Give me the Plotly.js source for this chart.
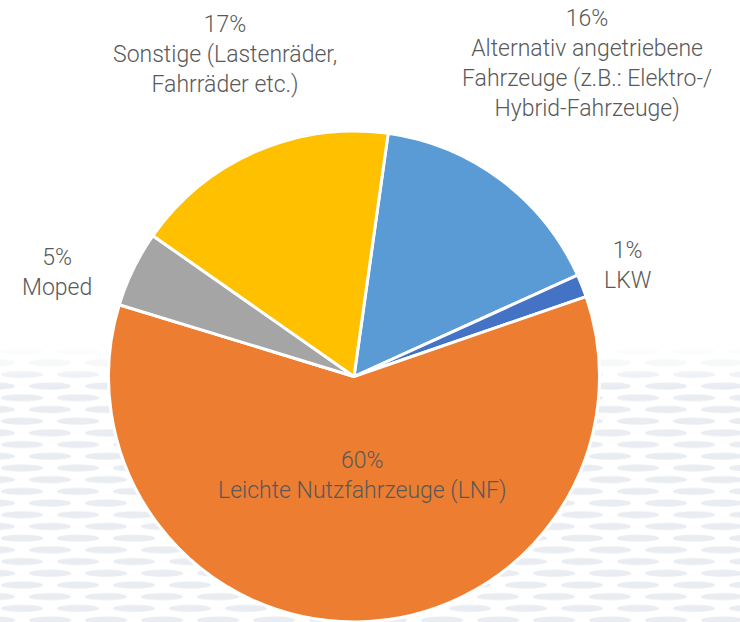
<!DOCTYPE html>
<html>
<head>
<meta charset="utf-8">
<script src="https://cdn.plot.ly/plotly-3.0.1.min.js"></script>
<style>html,body{margin:0;padding:0;background:#fff;}#chart{width:740px;height:622px;}</style>
</head>
<body>
<div id="chart"></div>
<script>
// Data
const categories = [
  "Alternativ angetriebene<br>Fahrzeuge (z.B.: Elektro-/<br>Hybrid-Fahrzeuge)",
  "LKW",
  "Leichte Nutzfahrzeuge (LNF)",
  "Moped",
  "Sonstige (Lastenräder,<br>Fahrräder etc.)"
];
const values = [16, 1.5, 60, 5, 17.5];
const pctLabels = ["16%", "1%", "60%", "5%", "17%"];
const colors = ["#5B9BD5", "#4472C4", "#ED7D31", "#A5A5A5", "#FFC000"];

// label placement (paper coords) for each category
const labelPos = [
  {x: 587/740, y: 1 - 64/622},
  {x: 628/740, y: 1 - 265/622},
  {x: 362/740, y: 1 - 475/622},
  {x: 57/740,  y: 1 - 272/622},
  {x: 225/740, y: 1 - 54/622}
];

// decorative dotted background (svg pattern)
const svg = `<svg xmlns='http://www.w3.org/2000/svg' width='740' height='280'>
<defs>
<pattern id='p' x='0' y='0' width='56' height='23.4' patternUnits='userSpaceOnUse'>
<ellipse cx='22' cy='6' rx='21' ry='3.6' fill='#E9EDF1'/>
<ellipse cx='50' cy='17.7' rx='21' ry='3.6' fill='#E9EDF1'/>
<ellipse cx='-6' cy='17.7' rx='21' ry='3.6' fill='#E9EDF1'/>
</pattern>
<linearGradient id='g' x1='0' y1='0' x2='0' y2='1'>
<stop offset='0' stop-color='#fff' stop-opacity='0'/>
<stop offset='0.15' stop-color='#fff' stop-opacity='1'/>
<stop offset='1' stop-color='#fff' stop-opacity='1'/>
</linearGradient>
<mask id='m'><rect width='740' height='280' fill='url(#g)'/></mask>
</defs>
<rect width='740' height='280' fill='url(#p)' mask='url(#m)'/>
</svg>`;
const bgSrc = "data:image/svg+xml;charset=utf-8," + encodeURIComponent(svg);

const trace = {
  type: "pie",
  values: values,
  labels: categories,
  marker: {colors: colors, line: {color: "#FFFFFF", width: 3}},
  sort: false,
  direction: "clockwise",
  rotation: 8,
  textinfo: "none",
  hoverinfo: "label+percent",
  domain: {x: [94/740, 614/740], y: [0, 1 - 131/622]},
  showlegend: false
};

const annotations = categories.map((c, i) => ({
  x: labelPos[i].x, y: labelPos[i].y, xref: "paper", yref: "paper",
  text: pctLabels[i] + "<br>" + c,
  showarrow: false, align: "center", xanchor: "center", yanchor: "middle",
  font: {family: "Roboto", size: 23, color: "#595959", weight: 300}
}));

const layout = {
  width: 740, height: 622,
  margin: {l: 0, r: 0, t: 0, b: 0},
  paper_bgcolor: "#FFFFFF",
  plot_bgcolor: "#FFFFFF",
  showlegend: false,
  annotations: annotations,
  images: [{
    source: bgSrc, xref: "paper", yref: "paper",
    x: 0, y: 1 - 345/622, sizex: 1, sizey: 280/622,
    xanchor: "left", yanchor: "top", sizing: "stretch", layer: "below"
  }]
};

Plotly.newPlot("chart", [trace], layout, {displayModeBar: false, staticPlot: true});
</script>
</body>
</html>
